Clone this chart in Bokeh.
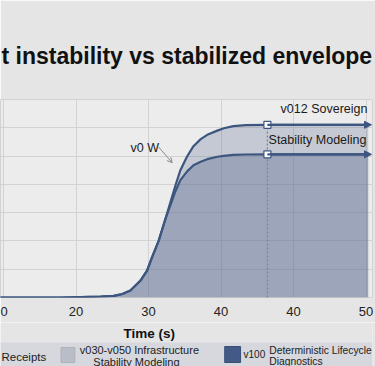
from bokeh.plotting import figure
from bokeh.models import Range1d, FixedTicker, Label, Arrow, NormalHead, OpenHead
from bokeh.layouts import column
from bokeh.core.properties import value
from bokeh.embed import file_html
from bokeh.resources import INLINE

# ---- data ----
time_s = [9.5, 17.9, 23.4, 25.2, 26.4, 27.5, 28.9, 29.8, 30.5, 31.4, 32.3, 33.0, 33.7, 34.4, 35.3,
          36.2, 37.2, 38.1, 39.5, 40.4, 41.7, 43.4, 46.4, 60.3]
sovereign = [0, 0, 0.007, 0.012, 0.025, 0.05, 0.12, 0.19, 0.285, 0.40, 0.55, 0.67, 0.79, 0.90, 0.995,
             1.07, 1.12, 1.15, 1.18, 1.197, 1.212, 1.219, 1.221, 1.221]
stability = [0, 0, 0.007, 0.012, 0.025, 0.05, 0.12, 0.19, 0.285, 0.40, 0.55, 0.65, 0.75, 0.83, 0.89,
             0.935, 0.96, 0.978, 0.995, 1.002, 1.008, 1.011, 1.012, 1.012]
marker_time = 46.4
x_ticks = [10, 20, 30, 40, 50, 60]
x_tick_labels = ["0", "20", "30", "40", "40", "50"]
y_ticks = [0, 0.2, 0.4, 0.6, 0.8, 1.0, 1.2, 1.4]
title_text = "t instability vs stabilized envelope"
x_axis_title = "Time (s)"
series_labels = ["v012 Sovereign", "Stability Modeling"]
annotation_text = "v0 W"
legend_texts = ["Receipts", "v030-v050 Infrastructure", "Stability Modeling", "v100",
                "Deterministic Lifecycle", "Diagnostics"]

FONT = "Liberation Sans"
LINE = "#3d5680"
FILL = "#5e6d91"
BG = "#e5e5e5"
LEG_BG = "#d6d8de"

X0 = 9.586
PX = 7.25

p = figure(width=375, height=322, x_range=Range1d(X0, X0 + 372 / PX), y_range=Range1d(0, 1.4),
           output_backend="svg", toolbar_location=None,
           min_border_left=0, min_border_right=3, min_border_top=99, min_border_bottom=25,
           background_fill_color="#ececec", border_fill_color=BG, outline_line_color="#d2d2d2")

p.title.text = title_text
p.title.text_font = FONT
p.title.text_font_size = "23px"
p.title.text_font_style = "bold"
p.title.text_color = "#111111"
p.title.align = "left"
p.title.offset = 1
p.title.standoff = 62

p.yaxis.visible = False
ax = p.xaxis[0]
ax.ticker = FixedTicker(ticks=x_ticks)
ax.major_label_overrides = {t: l for t, l in zip(x_ticks, x_tick_labels)}
ax.axis_line_color = None
ax.major_tick_line_color = None
ax.minor_tick_line_color = None
ax.major_tick_in = 0
ax.major_tick_out = 0
ax.major_label_standoff = 9
ax.major_label_text_font = FONT
ax.major_label_text_font_size = "13px"
ax.major_label_text_color = "#222222"

p.xgrid.ticker = FixedTicker(ticks=x_ticks)
p.ygrid.ticker = FixedTicker(ticks=y_ticks)
p.grid.grid_line_color = "#d2d2d2"
p.grid.grid_line_width = 1

p.varea(x=time_s, y1=0, y2=sovereign, fill_color=FILL, fill_alpha=0.27)
p.varea(x=time_s, y1=0, y2=stability, fill_color=FILL, fill_alpha=0.39)

idx = time_s.index(marker_time)
p.segment(x0=[marker_time], y0=[0], x1=[marker_time], y1=[sovereign[idx]],
          line_dash="2 2", line_color="#7d8494", line_width=1.3)

p.line(time_s, sovereign, line_color=LINE, line_width=2.2, line_join="round")
p.line(time_s, stability, line_color=LINE, line_width=2.2, line_join="round")

for series in (sovereign, stability):
    p.add_layout(Arrow(end=NormalHead(size=7, fill_color=LINE, line_color=LINE),
                       x_start=time_s[-2], y_start=series[-1], x_end=60.76, y_end=series[-1],
                       line_color=LINE, line_width=2.2))

p.scatter([marker_time, marker_time], [sovereign[idx], stability[idx]], marker="square", size=7,
          fill_color="white", line_color=LINE, line_width=1.2)

p.add_layout(Label(x=60.2, y=1.33, text=series_labels[0], text_align="right", text_baseline="middle",
                   text_font=FONT, text_font_size="12.5px", text_color="#1a1a1a"))
p.add_layout(Label(x=60.07, y=1.117, text=series_labels[1], text_align="right", text_baseline="middle",
                   text_font=FONT, text_font_size="12.5px", text_color="#1a1a1a"))
p.add_layout(Label(x=27.52, y=1.054, text=annotation_text, text_align="left", text_baseline="middle",
                   text_font=FONT, text_font_size="12.5px", text_color="#1a1a1a"))
p.add_layout(Arrow(end=OpenHead(size=5, line_color="#8a8a8a", line_width=1),
                   x_start=31.42, y_start=1.063, x_end=33.27, y_end=0.953,
                   line_color="#8a8a8a", line_width=1))

# ---- axis title + legend strip ----
lg = figure(width=375, height=44, x_range=Range1d(0, 375), y_range=Range1d(44, 0),
            output_backend="svg", toolbar_location=None, min_border=0,
            background_fill_color=BG, border_fill_color=BG, outline_line_color=None)
lg.axis.visible = False
lg.grid.visible = False
lg.text(x=[150], y=[10.5], text=[x_axis_title], text_font=value(FONT), text_font_size="13.5px",
        text_font_style="bold", text_baseline="middle", text_align="center", text_color="#111111")
lg.quad(left=[0], right=[375], top=[20], bottom=[44], fill_color=LEG_BG, line_color=None)
lg.quad(left=[61], right=[75], top=[25], bottom=[40], fill_color="#b9bdc7", line_color="#aeb2bd")
lg.quad(left=[226], right=[242], top=[24], bottom=[40], fill_color="#435a86", line_color="#3a4f78")
lg.text(x=[1], y=[34], text=[legend_texts[0]], text_font=value(FONT), text_font_size="11.5px",
        text_baseline="middle", text_align="left", text_color="#222222")
lg.text(x=[140, 137], y=[27.5, 39], text=legend_texts[1:3], text_font=value(FONT), text_font_size="11px",
        text_baseline="middle", text_align="center", text_color="#222222")
lg.text(x=[245], y=[32], text=[legend_texts[3]], text_font=value(FONT), text_font_size="10px",
        text_baseline="middle", text_align="left", text_color="#222222")
lg.text(x=[271, 271], y=[27.5, 39], text=legend_texts[4:6], text_font=value(FONT), text_font_size="10.3px",
        text_baseline="middle", text_align="left", text_color="#222222")

layout = column(p, lg, spacing=0)
open("out.html", "w").write(file_html(layout, INLINE))
